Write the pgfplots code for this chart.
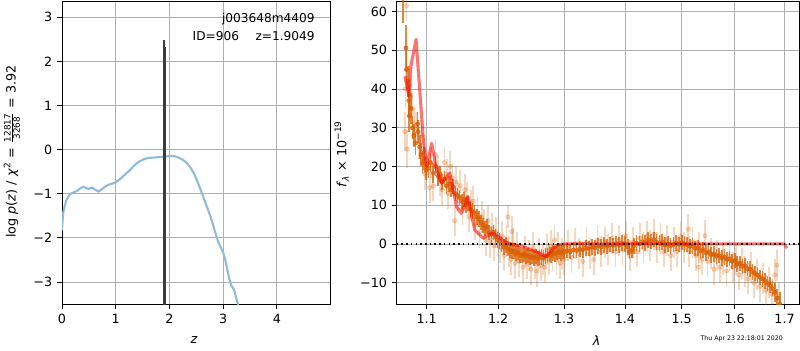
\documentclass[border=0pt]{standalone}
\usepackage{pgfplots}
\pgfplotsset{compat=1.18}
\usepackage{pgfplotstable}
\usepackage{fontspec}
\setmainfont{DejaVu Sans}
\definecolor{gridgray}{RGB}{176,176,176}
\definecolor{pzblue}{RGB}{143,187,217}
\definecolor{dorange}{RGB}{217,95,2}
\definecolor{barblack}{RGB}{60,60,60}

\pgfplotstableread{
x y e
1.0684 66 9
1.0726 50.6 6
1.0733 45 5
1.0751 42 4
1.0763 37 4
1.0770 33 4
1.0791 35 4
1.0810 30 3
1.0829 28 3
1.0850 26 3
1.0880 31 3
1.0887 29 3
1.0907 25 3
1.0925 23 3
1.0945 21 3
1.0965 22 3
1.0990 19 2.5
1.1022 19.5 2.5
1.1050 21 2.5
1.1089 18.3 2.5
1.1120 20 2.5
1.1156 17.4 2.5
1.1180 18 2
1.1210 16 2
1.1240 16.8 2
1.1270 15 2
1.1300 15.5 2
1.1330 14 2
1.1360 14.8 2
1.1390 13 2
1.1420 12.5 2
1.1450 12 2
1.1480 11 2
1.1510 11.5 2
1.1540 10 2
1.1570 10.5 2
1.1600 9 2
1.1630 8.5 2
1.1660 8 2
1.1690 7 2
1.1720 6.5 2
1.1750 5.5 2
1.1780 4.8 2
1.1810 4 2
1.1840 4.5 2
1.1870 3 2
1.1900 2.5 2
1.1930 3 2
1.1960 1.8 2
1.1990 1 2
1.2020 0.8 2
1.2050 0 2
1.2080 -0.8 2
1.2110 -0.3 2
1.2140 -1.2 2
1.2170 -1.5 2
1.2200 -2 2
1.2230 -1.8 2
1.2260 -2.5 2
1.2290 -2.2 2
1.2320 -2.8 2
1.2350 -3 2
1.2380 -2.6 2
1.2410 -3.2 2
1.2440 -3 2
1.2470 -3.5 2
1.2500 -3.2 2
1.2530 -3.6 2
1.2560 -3.3 2
1.2590 -3.8 2
1.2620 -3.5 2
1.2650 -3.4 2
1.2680 -3.6 2
1.2710 -3.1 2
1.2740 -3.0 2
1.2770 -2.7 2
1.2800 -2.9 2
1.2830 -2.4 2
1.2860 -2.6 2
1.2890 -2.2 2
1.2920 -2.0 2
1.2950 -2.3 2
1.2980 -1.8 2
1.3010 -2.1 2
1.305 -1.7 2
1.310 -2.0 2
1.315 -1.5 2
1.320 -1.7 2
1.325 -1.3 2
1.330 -1.5 2
1.335 -1.0 2
1.340 -1.2 2
1.345 -0.8 2
1.350 -1.0 2
1.355 -0.5 2
1.360 -0.8 2
1.365 -0.3 2
1.370 -0.6 2
1.375 -0.2 2
1.380 -0.4 2
1.385 0.1 2
1.390 -0.3 2
1.395 0.2 2
1.400 0.0 2
1.405 -0.8 2
1.408 -2.0 2
1.412 -1.5 2
1.415 -0.5 2
1.420 0.2 2
1.425 0.0 2
1.430 0.6 2
1.435 0.3 2
1.440 1.0 2
1.445 0.6 2
1.450 1.2 2
1.455 0.5 2
1.460 0.2 2
1.465 0.5 2
1.470 -0.3 2
1.475 0.0 2
1.480 -0.5 2
1.485 -0.2 2
1.490 0.2 2
1.495 -0.1 2
1.500 0.4 2
1.505 0.0 2
1.510 -0.2 2
1.515 -0.6 2
1.520 -0.5 2
1.525 -1.2 2
1.530 -1.0 2
1.535 -1.8 2
1.540 -1.5 2
1.545 -2.3 2
1.550 -2.0 2
1.555 -2.8 2
1.560 -2.6 2
1.565 -3.2 2
1.570 -3.0 2
1.575 -3.6 2
1.580 -3.4 2
1.585 -4.0 2
1.590 -3.8 2
1.595 -4.5 2
1.600 -4.3 2
1.605 -5.2 2
1.610 -5.0 2
1.615 -5.8 2
1.620 -5.6 2
1.625 -6.4 2
1.630 -6.5 2
1.635 -7.2 2
1.640 -7.6 2
1.645 -8.0 2
1.650 -8.6 2
1.655 -9.0 2
1.660 -9.5 2
1.665 -10.2 2
1.670 -10.6 2
1.675 -11.5 2
1.680 -12.5 2.5
1.685 -14.0 2.5
1.690 -15.5 3
}\darkdata

\pgfplotstableread{
x y e
1.0733 61.5 4
1.071 29 5
1.072 40 5
1.074 24.5 5
1.077 41 5
1.079 38 5
1.081 35 4
1.083 31 4
1.086 30 4
1.090 26 4
1.093 28 4
1.096 24 4
1.098 18 4
1.101 20.5 4
1.104 14.5 4
1.106 21 4
1.109 15 4
1.112 23 4
1.115 19 4
1.118 16.5 4
1.121 14 4
1.124 21 4
1.127 18 4
1.129 13 4
1.132 20 4
1.135 17 4
1.138 6 4
1.140 16 4
1.143 12 4
1.146 15 4
1.149 9 4
1.152 14 4
1.155 12 4
1.158 7 4
1.161 10 4
1.164 11 4
1.167 5 4
1.170 8 4
1.173 3 4
1.176 7 4
1.179 5 4
1.182 1 4
1.185 6 4
1.188 0.5 4
1.191 4 4
1.194 -0.5 4
1.197 3 4
1.203 -1 4
1.206 2 4
1.209 -3 4
1.212 1 4
1.214 7 3
1.216 -2 4
1.2198 3.2 4
1.219 -4 4
1.222 0 4
1.225 -5 4
1.228 -1 4
1.231 -4.5 4
1.237 -6 4
1.240 -2 4
1.243 -5 4
1.246 -3 4
1.249 -6.5 4
1.252 -1 4
1.255 -5 4
1.258 -7 4
1.261 -2.5 4
1.264 -5.5 4
1.267 -4 4
1.270 -6 4
1.273 -1.5 4
1.276 -4 4
1.279 -0.5 4
1.282 -3 4
1.285 1 4
1.288 -4 4
1.291 -1 4
1.294 -5 4
1.297 -2.5 4
1.300 -4 4
1.306 -0.5 4
1.312 -3.5 4
1.318 0 4
1.324 -2.5 4
1.330 -4.5 4
1.336 0.5 4
1.342 -2.5 4
1.348 -4 4
1.354 1 4
1.360 -2 4
1.366 0.5 4
1.372 -1.5 4
1.378 1.5 4
1.384 -2 4
1.390 1 4
1.396 -1.5 4
1.402 2 4
1.408 -3 4
1.414 0.5 4
1.420 -2 4
1.426 1.5 4
1.432 -1 4
1.438 2 4
1.444 -0.5 4
1.450 2.5 4
1.456 -1 4
1.462 1.5 4
1.468 -2 4
1.474 1 4
1.480 -3 4
1.486 0.5 4
1.492 -2 4
1.498 2 4
1.504 -1 4
1.512 3.8 4
1.514 -2 4
1.520 0.5 4
1.526 -3 4
1.531 -6 4
1.532 -1 4
1.538 -4 4
1.543 2.1 4
1.548 -4.5 4
1.554 -2.5 4
1.560 -6.5 4
1.566 -3 4
1.572 -6 4
1.578 -4 4
1.584 -7 4
1.590 -3 4
1.596 -6 4
1.602 -4 4
1.608 -8 4
1.614 -5 4
1.620 -7 4
1.626 -9 4
1.632 -6 4
1.638 -10 4
1.644 -8 4
1.650 -11 4
1.656 -9 4
1.662 -12 4
1.668 -10 4
1.674 -13 4
1.680 -8 4
1.684 -5.5 4
1.688 -14 4
}\lightdata

\pgfplotsset{
  mpl/.style={
    scale only axis,
    axis line style={line width=0.58bp},
    grid=major,
    major grid style={gridgray, line width=0.58bp},
    tick align=outside,
    tick pos=left,
    major tick length=3.5bp,
    every tick/.style={black, line width=0.58bp},
    tick label style={font=\fontsize{9.2}{11}\selectfont},
    clip marker paths=true,
  }
}

\begin{document}
\begin{tikzpicture}[x=1bp,y=1bp]
\useasboundingbox (0,0) rectangle (576,252);

\begin{axis}[mpl,
  at={(44.64bp,33.12bp)}, anchor=south west,
  width=192.96bp, height=218.16bp,
  xmin=0, xmax=4.99, ymin=-3.5, ymax=3.37,
  xtick={0,1,2,3,4}, xticklabels={0,1,2,3,4},
  ytick={-3,-2,-1,0,1,2,3}, yticklabels={−3,−2,−1,0,1,2,3},
]
\addplot[pzblue, line width=1.5bp] coordinates {
(0,-1.83) (0.02,-1.45) (0.05,-1.28) (0.08,-1.15) (0.12,-1.06) (0.16,-1.0) (0.27,-0.94)
(0.34,-0.88) (0.4,-0.84) (0.45,-0.87) (0.49,-0.89) (0.56,-0.86) (0.62,-0.91) (0.68,-0.95)
(0.75,-0.89) (0.81,-0.83) (0.88,-0.79) (0.94,-0.77) (1.0,-0.74) (1.08,-0.67) (1.16,-0.58)
(1.24,-0.49) (1.32,-0.39) (1.38,-0.32) (1.44,-0.27) (1.52,-0.22) (1.6,-0.19) (1.7,-0.18)
(1.79,-0.17) (1.9,-0.16) (2.04,-0.14) (2.1,-0.15) (2.17,-0.18) (2.25,-0.23) (2.33,-0.31)
(2.4,-0.42) (2.46,-0.55) (2.53,-0.75) (2.61,-1.0) (2.69,-1.27) (2.77,-1.53) (2.84,-1.82)
(2.9,-2.06) (2.95,-2.2) (3.0,-2.33) (3.04,-2.5) (3.07,-2.67) (3.11,-2.9) (3.15,-3.08)
(3.2,-3.16) (3.24,-3.35) (3.28,-3.52)
};
\addplot[barblack, line width=1.6bp] coordinates {(1.893,-3.6) (1.893,2.48)};
\addplot[barblack, line width=1.4bp] coordinates {(1.915,-3.6) (1.915,2.33)};
\end{axis}

\begin{axis}[mpl,
  at={(285.6bp,33.12bp)}, anchor=south west,
  width=289.9bp, height=218.16bp,
  xmode=log, log basis x=10,
  xmin=1.0606, xmax=1.731, ymin=-15.5, ymax=62.7,
  xtick={1.1,1.2,1.3,1.4,1.5,1.6,1.7},
  xticklabels={1.1,1.2,1.3,1.4,1.5,1.6,1.7},
  minor xtick={},
  ytick={-10,0,10,20,30,40,50,60},
  yticklabels={−10,0,10,20,30,40,50,60},
]
\addplot[only marks, mark=*, mark size=1.6bp, dorange, opacity=0.25,
  error bars/.cd, y dir=both, y explicit, error mark=none,
  error bar style={line width=1.3bp, dorange, opacity=0.25}]
  table[x=x, y=y, y error=e] {\lightdata};
\addplot[only marks, mark=*, mark size=1.5bp, dorange, opacity=0.75,
  error bars/.cd, y dir=both, y explicit, error mark=none,
  error bar style={line width=1.2bp, dorange, opacity=0.75}]
  table[x=x, y=y, y error=e] {\darkdata};
\addplot[red, opacity=0.55, line width=2.2bp, line join=round] coordinates {
(1.0713,43.3) (1.0766,38.1) (1.0791,45.9) (1.0858,52.8) (1.0901,41.5) (1.0955,26.9)
(1.1000,20) (1.1067,26) (1.1134,19.1) (1.1202,15.7) (1.1315,18.3) (1.1406,9.6)
(1.1475,7.9) (1.1567,12.2) (1.1661,3.6) (1.1777,1.5) (1.1919,2.8) (1.2000,1.9)
(1.2146,0) (1.2341,-0.5) (1.2489,-1.5) (1.2615,-2.4) (1.2716,-3.3) (1.2793,-1.9)
(1.2896,-0.2) (1.3,0) (1.4,0) (1.5,0) (1.6,0) (1.7,0) (1.7046,-1.1)
};
\addplot[black, line width=1.1bp, dash pattern=on 1.1bp off 2.3bp] coordinates {(1.0606,0) (1.731,0)};
\end{axis}

\node[rotate=90, font=\fontsize{9.2}{11}\selectfont] at (8.6bp,143bp)
  {log \textit{p}(\textit{z}) / \textit{χ}\textsuperscript{2} = $\frac{\hbox{\fontsize{6.4}{6.4}\selectfont 12817}}{\hbox{\fontsize{6.4}{6.4}\selectfont 3268}}$ = 3.92};
\node[font=\fontsize{9.2}{11}\selectfont] at (139.7bp,7.2bp) {\textit{z}};
\node[font=\fontsize{9.2}{11}\selectfont] at (429.6bp,6.8bp) {\textit{λ}};
\node[rotate=90, font=\fontsize{9.2}{11}\selectfont] at (246bp,141bp)
  {\textit{f}\textsubscript{\textit{λ}} × 10\textsuperscript{−19}};
\node[anchor=base east, inner sep=0pt, font=\fontsize{8.8}{10}\selectfont] at (226.8bp,235.9bp) {j003648m4409};
\node[anchor=base east, inner sep=0pt, font=\fontsize{8.8}{10}\selectfont] at (226.8bp,222.7bp) {ID=906\hspace{1.35em}z=1.9049};
\node[font=\fontsize{4.5}{5}\selectfont] at (534bp,7.9bp) {Thu Apr 23 22:18:01 2020};
\end{tikzpicture}
\end{document}
